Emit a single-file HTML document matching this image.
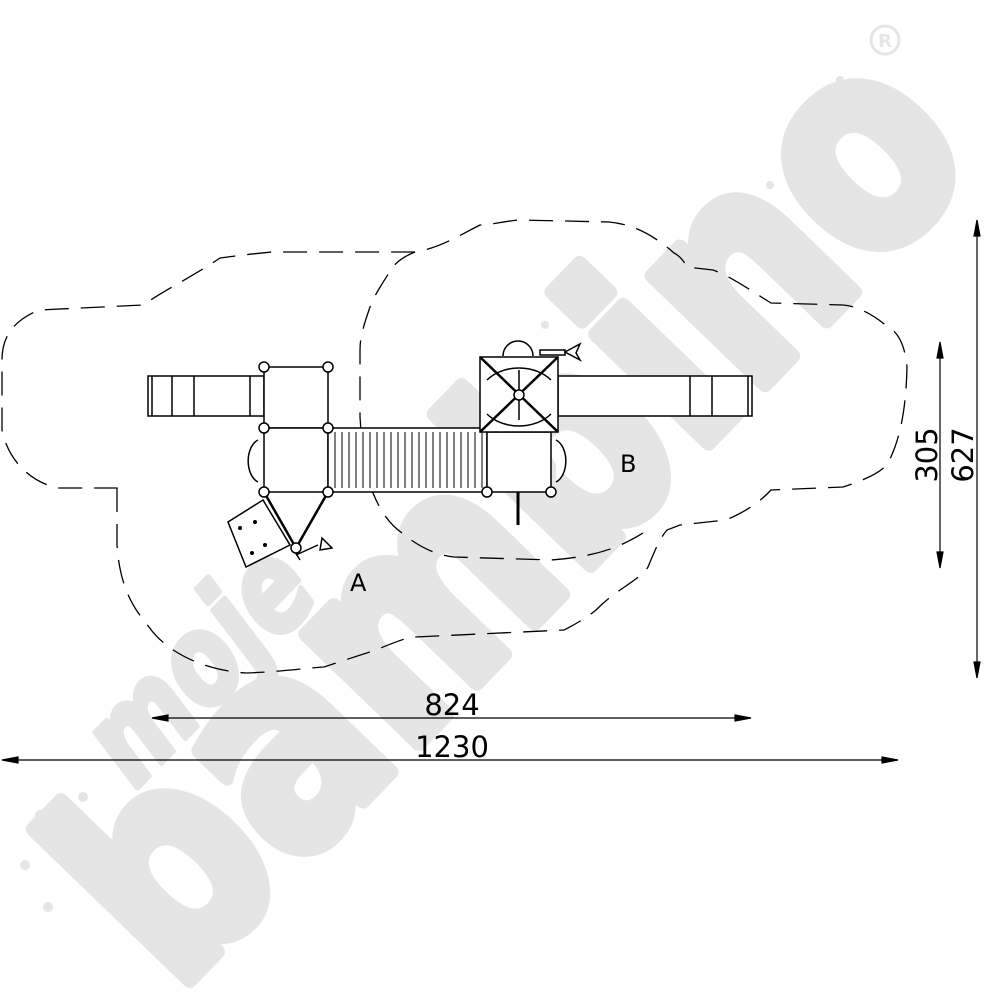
<!DOCTYPE html>
<html><head><meta charset="utf-8"><style>
html,body{margin:0;padding:0;background:#fff;overflow:hidden;width:1000px;height:1000px;}
svg{display:block;overflow:hidden;}
</style></head><body>
<svg width="1000" height="1000" viewBox="0 0 1000 1000" xmlns="http://www.w3.org/2000/svg">
<defs><clipPath id="c"><rect x="0" y="0" width="1000" height="1000"/></clipPath></defs>
<g clip-path="url(#c)">
<g fill="#e5e5e5" stroke="#e5e5e5" stroke-linejoin="round" font-family="'DejaVu Sans','Liberation Sans',sans-serif" font-weight="bold">
<text x="0" y="0" font-size="285" stroke-width="16" textLength="1160" lengthAdjust="spacingAndGlyphs" transform="translate(175,995) rotate(-46)">bambino</text>
<text x="0" y="0" font-size="125" stroke-width="6" textLength="270" lengthAdjust="spacingAndGlyphs" transform="translate(135,790) rotate(-46)" font-style="italic">moje</text>
<circle cx="885" cy="40" r="14" fill="none" stroke-width="3"/>
<text x="885" y="47" font-size="18" text-anchor="middle" stroke="none">R</text>
<g stroke="none"><circle cx="25" cy="865" r="5"/><circle cx="48" cy="907" r="5"/><circle cx="40" cy="815" r="5"/><circle cx="83" cy="797" r="5"/>
<circle cx="770" cy="185" r="4"/><circle cx="800" cy="180" r="4"/><circle cx="735" cy="210" r="4"/><circle cx="590" cy="270" r="4"/><circle cx="545" cy="325" r="4"/><circle cx="810" cy="130" r="4"/><circle cx="840" cy="80" r="4"/>
<circle cx="430" cy="515" r="4"/><circle cx="410" cy="565" r="4"/></g>
</g>
</g>
<g fill="none" stroke="#000" stroke-width="1.3" stroke-dasharray="24,12">
<path d="M117,488 L117,545 C120,590 135,610 149,627 C165,650 200,670 246,673 C280,672 305,668 324,667 C345,660 360,655 376,650 C395,642 405,638 415,637 L564,630 C580,622 590,615 596,610 C615,590 640,580 648,567 C655,550 660,538 667,530 L680,525 L726,520 C745,512 760,502 771,490 L843,487 C865,480 882,472 888,463 C900,440 906,410 907,367 C905,345 898,332 888,327 C870,312 855,306 843,305 L771,303 C750,290 730,276 713,270 L687,267 C683,260 680,256 674,253 C650,232 630,224 609,222 L518,220 C500,222 490,225 480,225 C460,235 440,248 415,252 L272,252 C250,254 235,256 220,258 C195,275 165,290 143,305 L39,310 C15,320 2,335 2,360 L2,430 C8,460 30,482 58,488 Z"/>
<path d="M415,252 C400,258 392,266 389,273 C378,290 372,300 369,310 C362,330 360,340 360,350 L360,417 C362,450 366,475 373,493 C382,515 392,526 402,533 C420,548 437,555 454,557 L551,560 C580,558 600,553 616,547 C630,541 640,535 648,530"/>
</g>
<g fill="#fff" stroke="#000" stroke-width="1.5">
<rect x="148" y="376" width="116" height="40"/>
<line x1="152" y1="376" x2="152" y2="416"/><line x1="172" y1="376" x2="172" y2="416"/><line x1="194" y1="376" x2="194" y2="416"/><line x1="250" y1="376" x2="250" y2="416"/>
<rect x="558" y="376" width="194" height="40"/>
<line x1="690" y1="376" x2="690" y2="416"/><line x1="712" y1="376" x2="712" y2="416"/><line x1="748" y1="376" x2="748" y2="416"/>
<path d="M258,440 A14,22 0 0 0 258,482" />
<rect x="264" y="367" width="64" height="61"/>
<rect x="264" y="428" width="64" height="64"/>
<rect x="328" y="428" width="159" height="64"/>
<g stroke-width="1">
<line x1="335" y1="432" x2="335" y2="488"/><line x1="342" y1="432" x2="342" y2="488"/><line x1="349" y1="432" x2="349" y2="488"/><line x1="356" y1="432" x2="356" y2="488"/><line x1="363" y1="432" x2="363" y2="488"/><line x1="370" y1="432" x2="370" y2="488"/><line x1="377" y1="432" x2="377" y2="488"/><line x1="384" y1="432" x2="384" y2="488"/><line x1="391" y1="432" x2="391" y2="488"/><line x1="398" y1="432" x2="398" y2="488"/><line x1="405" y1="432" x2="405" y2="488"/><line x1="412" y1="432" x2="412" y2="488"/><line x1="419" y1="432" x2="419" y2="488"/><line x1="426" y1="432" x2="426" y2="488"/><line x1="433" y1="432" x2="433" y2="488"/><line x1="440" y1="432" x2="440" y2="488"/><line x1="447" y1="432" x2="447" y2="488"/><line x1="454" y1="432" x2="454" y2="488"/><line x1="461" y1="432" x2="461" y2="488"/><line x1="468" y1="432" x2="468" y2="488"/><line x1="475" y1="432" x2="475" y2="488"/><line x1="482" y1="432" x2="482" y2="488"/>
</g>
<path d="M503,356 A15,15 0 0 1 533,356"/>
<path d="M556,440 A14,22 0 0 1 556,482" />
<rect x="487" y="432" width="64" height="60"/>
<rect x="480" y="357" width="78" height="75"/>
<line x1="480" y1="357" x2="558" y2="432" stroke-width="2.5"/><line x1="558" y1="357" x2="480" y2="432" stroke-width="2.5"/>
<path d="M487,380 A40,30 0 0 1 551,380" fill="none"/><path d="M487,414 A40,30 0 0 0 551,414" fill="none"/>
<line x1="519" y1="370" x2="519" y2="420"/>
<circle cx="519" cy="395" r="5"/>
<rect x="540" y="350" width="25" height="5"/><path d="M565,352 L580,344 L576,353 L580,360 Z"/>
<line x1="518" y1="492" x2="518" y2="525" stroke-width="3"/>
<path d="M264,492 L296,548 L328,492" fill="none" stroke-width="2.5"/>
<path d="M228,522 L263,500 L290,545 L246,567 Z"/>
<path d="M296,555 L318,545 M300,560 L295,552 M322,538 L332,548 L320,550 Z"/>
<g fill="#000" stroke="none"><circle cx="240" cy="528" r="2"/><circle cx="255" cy="522" r="2"/><circle cx="265" cy="545" r="2"/><circle cx="252" cy="553" r="2"/></g>
<circle cx="264" cy="367" r="5"/><circle cx="328" cy="367" r="5"/>
<circle cx="264" cy="428" r="5"/><circle cx="328" cy="428" r="5"/>
<circle cx="264" cy="492" r="5"/><circle cx="328" cy="492" r="5"/>
<circle cx="487" cy="492" r="5"/><circle cx="551" cy="492" r="5"/>
<circle cx="296" cy="548" r="5"/>
</g>
<g font-family="'DejaVu Sans','Liberation Sans',sans-serif" font-size="24" fill="#000">
<text x="350" y="591">A</text>
<text x="620" y="472">B</text>
<text x="452" y="715" text-anchor="middle" font-size="29">824</text>
<text x="452" y="757" text-anchor="middle" font-size="29">1230</text>
<text transform="translate(937,455) rotate(-90)" text-anchor="middle" font-size="29">305</text>
<text transform="translate(973,455) rotate(-90)" text-anchor="middle" font-size="29">627</text>
</g>
<g stroke="#000" stroke-width="1.2" fill="#000">
<line x1="155" y1="718" x2="748" y2="718"/>
<path d="M152,718 L168,715 L168,721 Z"/><path d="M751,718 L735,715 L735,721 Z"/>
<line x1="3" y1="760" x2="897" y2="760"/>
<path d="M2,760 L18,757 L18,763 Z"/><path d="M898,760 L882,757 L882,763 Z"/>
<line x1="940" y1="345" x2="940" y2="565"/>
<path d="M940,342 L937,358 L943,358 Z"/><path d="M940,568 L937,552 L943,552 Z"/>
<line x1="977" y1="222" x2="977" y2="677"/>
<path d="M977,220 L974,236 L980,236 Z"/><path d="M977,678 L974,662 L980,662 Z"/>
</g>
</svg>
</body></html>
